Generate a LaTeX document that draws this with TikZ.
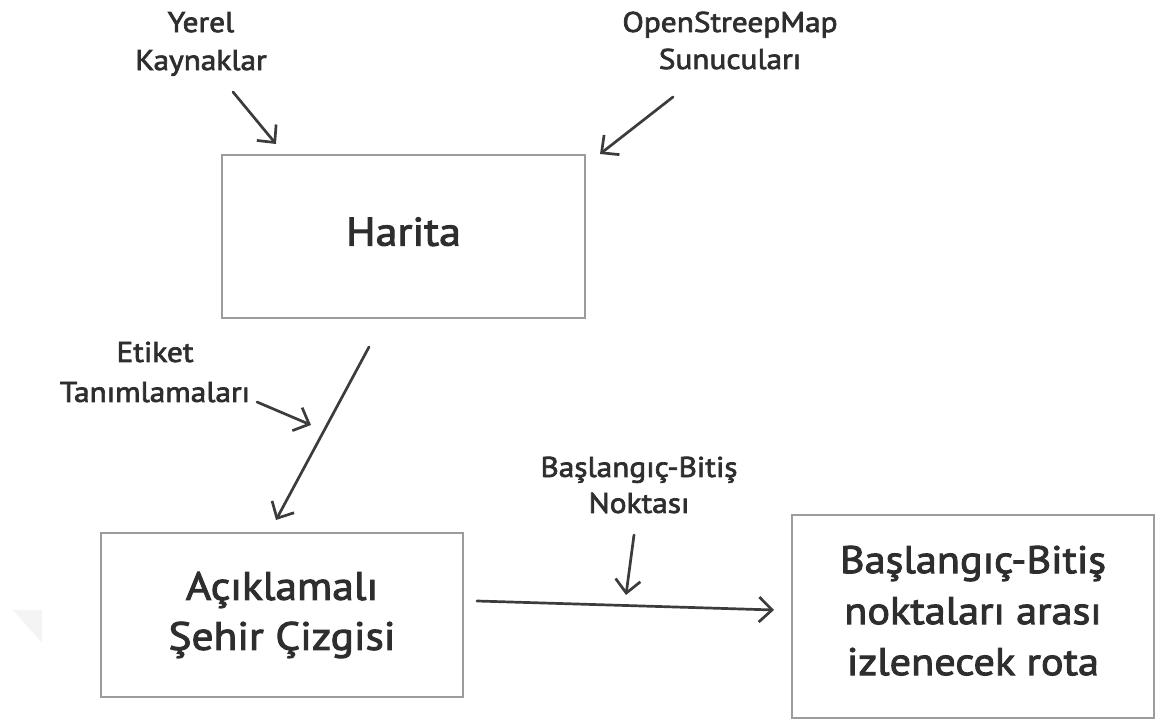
\documentclass[tikz,border=0pt]{standalone}
\usepackage{fontspec}
\setmainfont{PT Sans}[FakeStretch=1.1,FakeBold=2.5]
\usetikzlibrary{arrows.meta}
\definecolor{inkc}{HTML}{2E2E2E}
\definecolor{arrc}{HTML}{3C3C3C}
\definecolor{boxc}{HTML}{9C9C9C}
\begin{document}
\begin{tikzpicture}[x=1pt,y=1pt,
  box/.style={draw=boxc, line width=2pt, inner sep=0pt, align=center, text=inkc},
  lbl/.style={align=center, text=inkc, inner sep=0pt},
  arr/.style={draw=arrc, line width=2.7pt, line cap=round,
    -{Straight Barb[length=13pt,width=25pt,line width=2.7pt]}}]
\useasboundingbox (0,0) rectangle (1157,720);
% faint watermark triangle
\fill[gray!9] (13,110) -- (42,110) -- (42,77) -- cycle;
% boxes
\node[box, minimum width=363pt, minimum height=163pt,
  font=\fontsize{40}{47}\selectfont] (harita) at (403.5,483.5) {Harita\rule[-10pt]{0pt}{0pt}};
\node[box, minimum width=362pt, minimum height=164pt,
  font=\fontsize{39.5}{50}\selectfont] (acik) at (282,105) {Açıklamalı\\Şehir Çizgisi};
\node[box, minimum width=362pt, minimum height=203pt,
  font=\fontsize{38.5}{51}\selectfont] (rota) at (973,103.5) {Başlangıç-Bitiş\\noktaları arası\\izlenecek rota\rule[-12pt]{0pt}{0pt}};
% labels
\node[lbl, font=\fontsize{28.5}{38}\selectfont] (yerel) at (201,676) {Yerel\\Kaynaklar};
\node[lbl, font=\fontsize{28.5}{37}\selectfont] (osm) at (730,679.5) {OpenStreepMap\\Sunucuları};
\node[lbl, font=\fontsize{28.5}{40}\selectfont] (etiket) at (155,348) {Etiket\\Tanımlamaları};
\node[lbl, font=\fontsize{28.5}{36}\selectfont] (bbn) at (639,235) {Başlangıç-Bitiş\\Noktası};
% connector end points
\coordinate (y1) at (233,628); \coordinate (y2) at (276,576);
\coordinate (o1) at (673,623); \coordinate (o2) at (600,566);
\coordinate (h1) at (369,373); \coordinate (h2) at (276,200);
\coordinate (e1) at (257,318); \coordinate (e2) at (311,295);
\coordinate (a1) at (477,119); \coordinate (a2) at (774,110);
\coordinate (b1) at (634,185); \coordinate (b2) at (626,125);
% connectors
\draw[arr] (y1) -- (y2);
\draw[arr] (o1) -- (o2);
\draw[arr] (h1) -- (h2);
\draw[arr] (e1) -- (e2);
\draw[arr] (a1) -- (a2);
\draw[arr] (b1) -- (b2);
\end{tikzpicture}
\end{document}
